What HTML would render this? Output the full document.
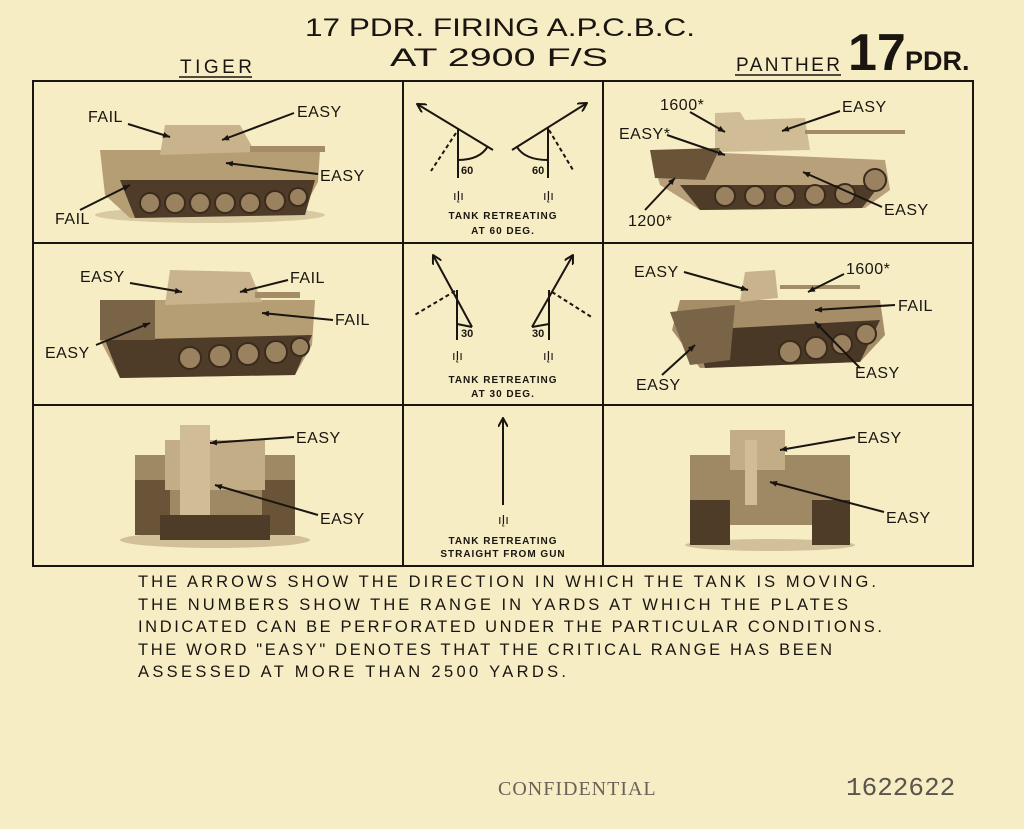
<!DOCTYPE html>
<html><head><meta charset="utf-8"><style>
html,body{margin:0;padding:0;background:#f6edc4;}
svg{display:block}
text{font-family:"Liberation Sans",sans-serif;fill:#1a1510;}
.l{font-size:16px;letter-spacing:0.5px}
.s{font-size:10px;font-weight:bold;letter-spacing:1px}
.b{font-size:16.5px}
</style></head><body>
<svg width="1024" height="829" viewBox="0 0 1024 829" xmlns="http://www.w3.org/2000/svg">
<defs>
<marker id="ah" markerWidth="10" markerHeight="10" refX="9" refY="5" orient="auto" markerUnits="userSpaceOnUse"><path d="M0,0 L9,5 L0,10" fill="none" stroke="#1a1510" stroke-width="2"/></marker>
<marker id="sa" markerWidth="8" markerHeight="8" refX="7" refY="4" orient="auto" markerUnits="userSpaceOnUse"><path d="M0,1 L7,4 L0,7 z" fill="#1a1510"/></marker>
</defs>
<rect width="1024" height="829" fill="#f6edc4"/>
<text x="305" y="36" textLength="390" lengthAdjust="spacingAndGlyphs" style="font-size:25px">17 PDR. FIRING A.P.C.B.C.</text>
<text x="390" y="66" textLength="218" lengthAdjust="spacingAndGlyphs" style="font-size:25px">AT 2900 F/S</text>
<text x="180" y="73" textLength="72" style="font-size:19px">TIGER</text>
<line x1="179" y1="77" x2="252" y2="77" stroke="#1a1510" stroke-width="1.5"/>
<text x="736" y="71" textLength="104" style="font-size:19px">PANTHER</text>
<line x1="735" y1="75" x2="841" y2="75" stroke="#1a1510" stroke-width="1.5"/>
<text x="848" y="70" style="font-size:52px;font-weight:bold">17</text>
<text x="905" y="70" style="font-size:27px;font-weight:bold">PDR.</text>

<g stroke="#1a1510" stroke-width="2" fill="none">
<rect x="33" y="81" width="940" height="485"/>
<line x1="403" y1="81" x2="403" y2="566"/><line x1="603" y1="81" x2="603" y2="566"/>
<line x1="33" y1="243" x2="973" y2="243"/><line x1="33" y1="405" x2="973" y2="405"/>
</g>

<g stroke="#1a1510" stroke-width="2" fill="none">
<line x1="458" y1="128" x2="458" y2="178"/><line x1="493" y1="150" x2="417" y2="104" marker-end="url(#ah)"/>
<line x1="456" y1="133" x2="431" y2="171" stroke-dasharray="4,3"/><path d="M458,160 Q480,160 488,146"/>
<line x1="548" y1="128" x2="548" y2="178"/><line x1="512" y1="150" x2="587" y2="103" marker-end="url(#ah)"/>
<line x1="549" y1="130" x2="573" y2="170" stroke-dasharray="4,3"/><path d="M548,160 Q525,160 517,147"/>
<line x1="457" y1="290" x2="457" y2="340"/><line x1="472" y1="327" x2="433" y2="255" marker-end="url(#ah)"/>
<line x1="455" y1="291" x2="413" y2="316" stroke-dasharray="4,3"/><line x1="457" y1="324" x2="472" y2="327"/>
<line x1="549" y1="290" x2="549" y2="340"/><line x1="532" y1="327" x2="573" y2="255" marker-end="url(#ah)"/>
<line x1="552" y1="292" x2="593" y2="318" stroke-dasharray="4,3"/><line x1="549" y1="324" x2="532" y2="327"/>
<line x1="503" y1="505" x2="503" y2="418" marker-end="url(#ah)"/>
</g>
<g style="font-size:11px;font-weight:bold">
<text x="461" y="174">60</text><text x="532" y="174">60</text><text x="461" y="337">30</text><text x="532" y="337">30</text>
</g>
<g style="font-size:13px"><text x="453" y="200">ıĮı</text><text x="543" y="200">ıĮı</text><text x="452" y="360">ıĮı</text><text x="543" y="360">ıĮı</text><text x="498" y="524">ıĮı</text></g>
<text class="s" x="503" y="219" text-anchor="middle">TANK  RETREATING</text>
<text class="s" x="503" y="234" text-anchor="middle">AT  60  DEG.</text>
<text class="s" x="503" y="383" text-anchor="middle">TANK  RETREATING</text>
<text class="s" x="503" y="397" text-anchor="middle">AT  30  DEG.</text>
<text class="s" x="503" y="544" text-anchor="middle">TANK  RETREATING</text>
<text class="s" x="503" y="557" text-anchor="middle">STRAIGHT FROM GUN</text>

<g>
<ellipse cx="210" cy="215" rx="115" ry="8" fill="#d9c9a0"/>
<path d="M100,150 L320,150 L318,182 L300,215 L130,218 L105,195 Z" fill="#b59d74"/>
<path d="M120,180 L315,180 L305,215 L135,218 Z" fill="#4e3b28"/>
<g fill="#9a8260" stroke="#3a2b1c" stroke-width="2"><circle cx="150" cy="203" r="10"/><circle cx="175" cy="203" r="10"/><circle cx="200" cy="203" r="10"/><circle cx="225" cy="203" r="10"/><circle cx="250" cy="203" r="10"/><circle cx="275" cy="201" r="10"/><circle cx="298" cy="197" r="9"/></g>
<path d="M165,125 L240,125 L255,152 L160,155 Z" fill="#c8b38c"/><rect x="250" y="146" width="75" height="6" fill="#a48c66"/>
</g>
<g>
<path d="M100,300 L315,300 L312,345 L295,375 L120,378 L100,340 Z" fill="#b59d74"/>
<path d="M105,340 L312,335 L295,375 L120,378 Z" fill="#4e3b28"/>
<g fill="#9a8260" stroke="#3a2b1c" stroke-width="2"><circle cx="190" cy="358" r="11"/><circle cx="220" cy="356" r="11"/><circle cx="248" cy="354" r="11"/><circle cx="276" cy="352" r="11"/><circle cx="300" cy="347" r="9"/></g>
<path d="M170,270 L250,272 L262,302 L165,305 Z" fill="#c8b38c"/><rect x="255" y="292" width="45" height="6" fill="#a48c66"/>
<rect x="100" y="300" width="55" height="40" fill="#7a6448"/>
</g>
<g>
<ellipse cx="215" cy="540" rx="95" ry="8" fill="#d2c09a"/>
<rect x="135" y="455" width="160" height="80" fill="#9f8864"/>
<rect x="135" y="480" width="35" height="55" fill="#6a5438"/><rect x="262" y="480" width="33" height="55" fill="#6a5438"/>
<rect x="165" y="440" width="100" height="50" fill="#c2ad86"/>
<rect x="180" y="425" width="30" height="110" fill="#d0bc96"/>
<rect x="160" y="515" width="110" height="25" fill="#4e3b28"/>
</g>

<g>
<path d="M650,150 L885,160 L890,190 L865,208 L700,210 L660,185 Z" fill="#b8a07a"/>
<path d="M680,185 L880,185 L862,208 L700,210 Z" fill="#4e3b28"/>
<g fill="#9a8260" stroke="#3a2b1c" stroke-width="2"><circle cx="725" cy="196" r="10"/><circle cx="755" cy="196" r="10"/><circle cx="785" cy="196" r="10"/><circle cx="815" cy="195" r="10"/><circle cx="845" cy="194" r="10"/><circle cx="875" cy="180" r="11"/></g>
<path d="M715,113 L740,112 L745,120 L805,118 L810,150 L715,152 Z" fill="#d0bc95"/>
<rect x="805" y="130" width="100" height="4" fill="#a48c66"/>
<path d="M650,150 L720,148 L705,180 L655,178 Z" fill="#6a5438"/>
</g>
<g>
<path d="M680,300 L880,300 L885,335 L860,362 L700,368 L672,330 Z" fill="#a58d68"/>
<path d="M695,330 L880,320 L860,362 L705,368 Z" fill="#4a3826"/>
<g fill="#9a8260" stroke="#3a2b1c" stroke-width="2"><circle cx="790" cy="352" r="11"/><circle cx="816" cy="348" r="11"/><circle cx="842" cy="344" r="10"/><circle cx="866" cy="334" r="10"/></g>
<path d="M745,272 L775,270 L778,298 L740,302 Z" fill="#c8b38c"/><rect x="780" y="285" width="80" height="4" fill="#a48c66"/>
<path d="M670,312 L735,305 L730,360 L690,365 Z" fill="#7a6448"/>
</g>
<g>
<ellipse cx="770" cy="545" rx="85" ry="6" fill="#d2c09a"/>
<rect x="690" y="455" width="160" height="70" fill="#9f8864"/>
<rect x="690" y="500" width="40" height="45" fill="#4e3b28"/><rect x="812" y="500" width="38" height="45" fill="#4e3b28"/>
<rect x="730" y="430" width="55" height="40" fill="#c2ad86"/>
<rect x="745" y="440" width="12" height="65" fill="#d0bc96"/>
</g>

<g stroke="#1a1510" stroke-width="2" marker-end="url(#sa)">
<line x1="128" y1="124" x2="170" y2="137"/><line x1="294" y1="113" x2="222" y2="140"/><line x1="318" y1="174" x2="226" y2="163"/><line x1="80" y1="210" x2="130" y2="185"/>
<line x1="130" y1="283" x2="182" y2="292"/><line x1="288" y1="280" x2="240" y2="292"/><line x1="333" y1="320" x2="262" y2="313"/><line x1="96" y1="345" x2="150" y2="323"/>
<line x1="294" y1="437" x2="210" y2="443"/><line x1="318" y1="515" x2="215" y2="485"/>
<line x1="690" y1="112" x2="725" y2="132"/><line x1="840" y1="111" x2="782" y2="131"/><line x1="667" y1="135" x2="725" y2="155"/><line x1="645" y1="210" x2="675" y2="178"/><line x1="882" y1="207" x2="803" y2="172"/>
<line x1="684" y1="272" x2="748" y2="290"/><line x1="844" y1="274" x2="808" y2="292"/><line x1="895" y1="305" x2="815" y2="310"/><line x1="662" y1="375" x2="695" y2="345"/><line x1="860" y1="368" x2="815" y2="322"/>
<line x1="855" y1="437" x2="780" y2="450"/><line x1="884" y1="512" x2="770" y2="482"/>
</g>
<g class="l">
<text x="88" y="122">FAIL</text><text x="297" y="117">EASY</text><text x="320" y="181">EASY</text><text x="55" y="224">FAIL</text>
<text x="80" y="282">EASY</text><text x="290" y="283">FAIL</text><text x="335" y="325">FAIL</text><text x="45" y="358">EASY</text>
<text x="296" y="443">EASY</text><text x="320" y="524">EASY</text>
<text x="660" y="110">1600*</text><text x="842" y="112">EASY</text><text x="619" y="139">EASY*</text><text x="628" y="226">1200*</text><text x="884" y="215">EASY</text>
<text x="634" y="277">EASY</text><text x="846" y="274">1600*</text><text x="898" y="311">FAIL</text><text x="636" y="390">EASY</text><text x="855" y="378">EASY</text>
<text x="857" y="443">EASY</text><text x="886" y="523">EASY</text>
</g>

<g class="b">
<text x="138" y="587" textLength="738">THE ARROWS SHOW THE DIRECTION IN WHICH THE TANK IS MOVING.</text>
<text x="138" y="610" textLength="710">THE NUMBERS SHOW THE RANGE IN YARDS AT WHICH THE PLATES</text>
<text x="138" y="632" textLength="744">INDICATED CAN BE PERFORATED UNDER THE PARTICULAR CONDITIONS.</text>
<text x="138" y="655" textLength="694">THE WORD "EASY" DENOTES THAT THE CRITICAL RANGE HAS BEEN</text>
<text x="138" y="677" textLength="428">ASSESSED AT MORE THAN 2500 YARDS.</text>
</g>
<text x="498" y="795" style="font-family:'Liberation Serif',serif;font-size:20px;fill:#6a6258;letter-spacing:1px">CONFIDENTIAL</text>
<text x="846" y="795" style="font-family:'Liberation Mono',monospace;font-size:26px;fill:#5a544c">1622622</text>
</svg>
</body></html>
